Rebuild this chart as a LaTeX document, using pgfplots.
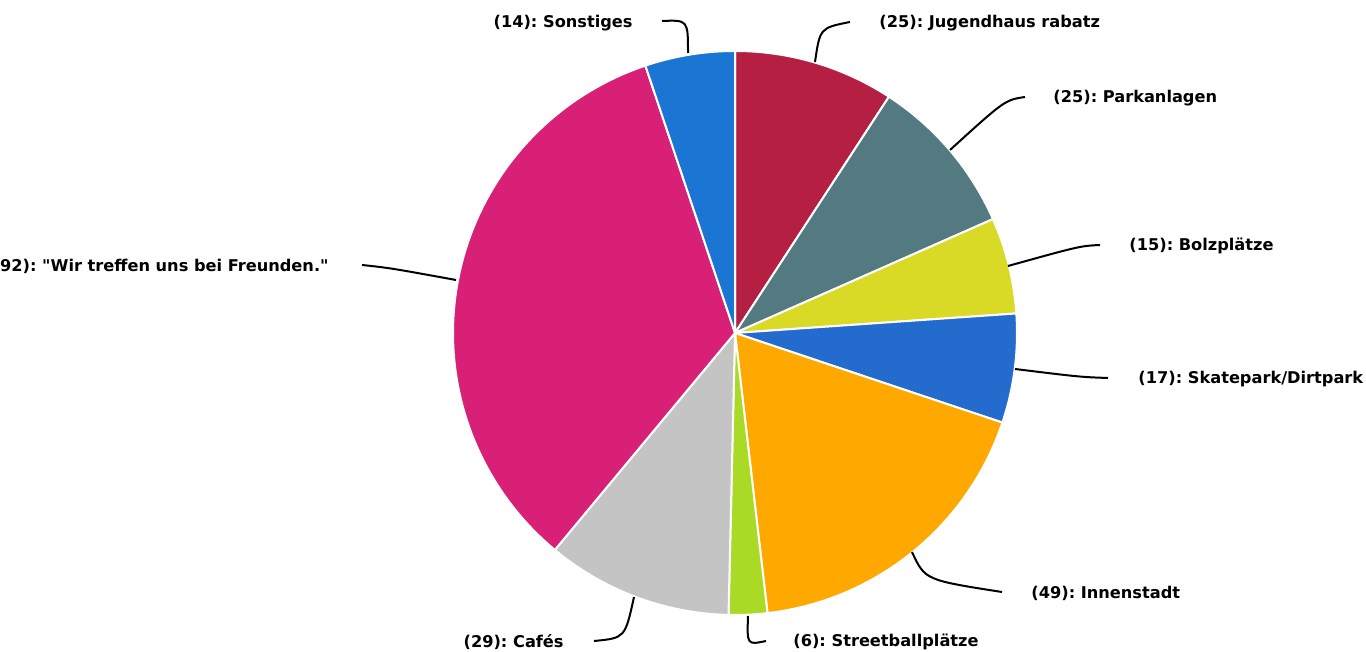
\documentclass[border=0pt]{standalone}
\usepackage{pgfplots}
\pgfplotsset{compat=1.18}
\usepackage{fontspec}
\setmainfont{DejaVu Sans}[Ligatures=TeXOff]
\frenchspacing
\definecolor{cJug}{HTML}{B41F42}
\definecolor{cPark}{HTML}{527A80}
\definecolor{cBolz}{HTML}{D8DA26}
\definecolor{cSkate}{HTML}{246BCE}
\definecolor{cInnen}{HTML}{FFA800}
\definecolor{cStreet}{HTML}{A8DA26}
\definecolor{cCafe}{HTML}{C4C4C4}
\definecolor{cFreund}{HTML}{D92077}
\definecolor{cSonst}{HTML}{1A76D2}
\tikzset{lbl/.style={font=\bfseries\fontsize{8.1}{9.5}\selectfont, inner sep=0pt},
  lead/.style={black, line width=1pt}}
\begin{document}
\begin{tikzpicture}
\begin{axis}[
  at={(0,0)}, anchor=south west,
  width=683pt, height=326pt, scale only axis,
  xmin=0, xmax=1366, ymin=0, ymax=652, y dir=reverse,
  hide axis, clip=true,
]
% pie: centre (735,333), radius 282 px, values clockwise from top
\def\cx{735}\def\cy{333}\def\R{282}\def\total{272}
\def\acc{0}
\pgfplotsforeachungrouped \v/\col in {25/cJug, 25/cPark, 15/cBolz, 17/cSkate,
    49/cInnen, 6/cStreet, 29/cCafe, 92/cFreund, 14/cSonst}{%
  \pgfmathsetmacro\a{\acc/\total*360}%
  \pgfmathsetmacro\acc{\acc+\v}%
  \pgfmathsetmacro\b{\acc/\total*360}%
  \edef\tmp{\noexpand\fill[\col, draw=white, line width=1pt, line join=round]
    (axis cs:\cx,\cy) -- plot[domain=\a:\b, samples=80, variable=\noexpand\ang]
    (axis cs:{\cx+\R*sin(\noexpand\ang)},{\cy-\R*cos(\noexpand\ang)}) -- cycle;}%
  \tmp
}
% leader lines
\draw[lead] (axis cs:815,62) .. controls (axis cs:820,28) .. (axis cs:850,22);
\draw[lead] (axis cs:950,150) .. controls (axis cs:1005,100) .. (axis cs:1025,97);
\draw[lead] (axis cs:1008,266) .. controls (axis cs:1080,246) .. (axis cs:1100,245);
\draw[lead] (axis cs:1015,369) .. controls (axis cs:1080,377) .. (axis cs:1108,378);
\draw[lead] (axis cs:912,552) .. controls (axis cs:925,580) .. (axis cs:1002,592);
\draw[lead] (axis cs:748,616) .. controls (axis cs:747,645) .. (axis cs:766,641);
\draw[lead] (axis cs:634,597) .. controls (axis cs:625,638) .. (axis cs:594,641);
\draw[lead] (axis cs:456,280) .. controls (axis cs:390,268) .. (axis cs:362,265);
\draw[lead] (axis cs:688,53) .. controls (axis cs:688,20) .. (axis cs:662,21);
% labels
\node[lbl, anchor=west] at (axis cs:879,23) {(25): Jugendhaus rabatz};
\node[lbl, anchor=west] at (axis cs:1053,98) {(25): Parkanlagen};
\node[lbl, anchor=west] at (axis cs:1129,246) {(15): Bolzplätze};
\node[lbl, anchor=west] at (axis cs:1138,379) {(17): Skatepark/Dirtpark};
\node[lbl, anchor=west] at (axis cs:1031,593) {(49): Innenstadt};
\node[lbl, anchor=west] at (axis cs:793,642) {(6): Streetballplätze};
\node[lbl, anchor=east] at (axis cs:564,642) {(29): Cafés};
\node[lbl, anchor=east] at (axis cs:329,266) {(92): "Wir treffen uns bei Freunden."};
\node[lbl, anchor=east] at (axis cs:633,23) {(14): Sonstiges};
\end{axis}
\pgfresetboundingbox
\useasboundingbox (0,0) rectangle (683pt,326pt);
\end{tikzpicture}
\end{document}
